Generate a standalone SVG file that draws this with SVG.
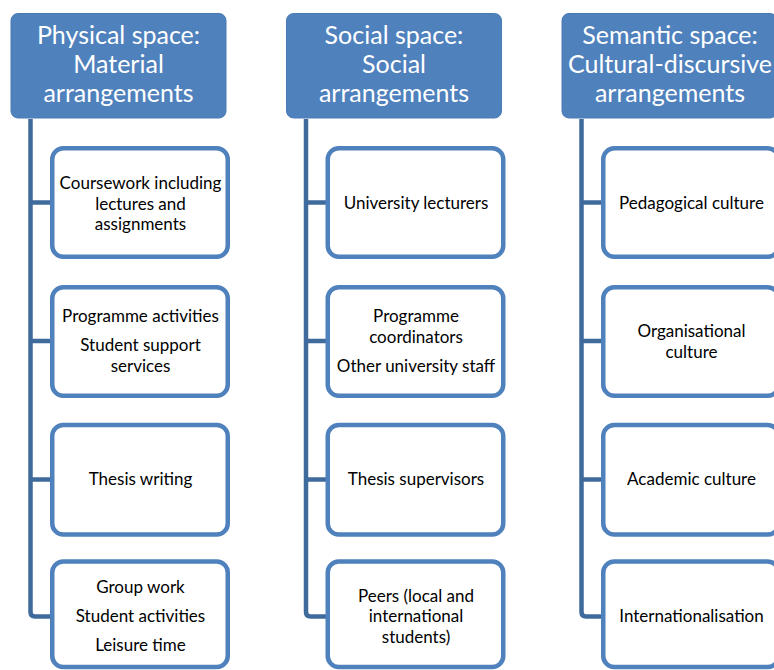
<svg xmlns="http://www.w3.org/2000/svg" width="774" height="670" viewBox="0 0 774 670">
<style>
.hdr{fill:#4F81BD;stroke:#4A7AB4;stroke-width:1}
.box{fill:#FFFFFF;stroke:#4F81BD;stroke-width:4.5}
.ht{font-family:Lato,"Open Sans",sans-serif;font-size:25px;fill:#FFFFFF;text-anchor:middle}
.bt{font-family:Lato,"Open Sans",sans-serif;font-size:17px;fill:#000000;text-anchor:middle}
.con{fill:none;stroke:#3F6A9C;stroke-width:4.5;stroke-linejoin:round}
</style>
<rect width="774" height="670" fill="#FFFFFF"/>
<g id="connectors">
<path class="con" d="M30.5 119 V612 Q30.5 616.5 35 616.5 H51"/>
<path class="con" d="M30.5 202.5 H51 M30.5 341 H51 M30.5 479.5 H51"/>
<path class="con" d="M306 119 V612 Q306 616.5 310.5 616.5 H327"/>
<path class="con" d="M306 202.5 H327 M306 341 H327 M306 479.5 H327"/>
<path class="con" d="M581.5 119 V612 Q581.5 616.5 586 616.5 H602"/>
<path class="con" d="M581.5 202.5 H602 M581.5 341 H602 M581.5 479.5 H602"/>
</g>
<g id="h1"><rect class="hdr" x="11" y="13.5" width="215" height="104.5" rx="7"/>
<text class="ht" x="118.5" y="44">Physical space:</text><text class="ht" x="118.5" y="73">Material</text><text class="ht" x="118.5" y="102">arrangements</text></g>
<g id="h2"><rect class="hdr" x="286.5" y="13.5" width="215" height="104.5" rx="7"/>
<text class="ht" x="394" y="44">Social space:</text><text class="ht" x="394" y="73">Social</text><text class="ht" x="394" y="102">arrangements</text></g>
<g id="h3"><rect class="hdr" x="562" y="13.5" width="215" height="104.5" rx="7"/>
<text class="ht" x="670" y="44">Semantic space:</text><text class="ht" x="670" y="73">Cultural-discursive</text><text class="ht" x="670" y="102">arrangements</text></g>

<g id="c1b1"><rect class="box" x="52.25" y="148.25" width="175.5" height="108.5" rx="11"/>
<text class="bt" x="140.5" y="189">Coursework including</text><text class="bt" x="140.5" y="209.5">lectures and</text><text class="bt" x="140.5" y="230">assignments</text></g>
<g id="c1b2"><rect class="box" x="52.25" y="287.25" width="175.5" height="108.5" rx="11"/>
<text class="bt" x="140.5" y="322">Programme activities</text><text class="bt" x="140.5" y="351">Student support</text><text class="bt" x="140.5" y="371.5">services</text></g>
<g id="c1b3"><rect class="box" x="52.25" y="425" width="175.5" height="109.5" rx="11"/>
<text class="bt" x="140.5" y="485">Thesis writing</text></g>
<g id="c1b4"><rect class="box" x="52.25" y="561.5" width="175.5" height="105.5" rx="11"/>
<text class="bt" x="140.5" y="593">Group work</text><text class="bt" x="140.5" y="622">Student activities</text><text class="bt" x="140.5" y="651">Leisure time</text></g>

<g id="c2b1"><rect class="box" x="327.75" y="148.25" width="175.5" height="108.5" rx="11"/>
<text class="bt" x="416" y="209">University lecturers</text></g>
<g id="c2b2"><rect class="box" x="327.75" y="287.25" width="175.5" height="108.5" rx="11"/>
<text class="bt" x="416" y="322">Programme</text><text class="bt" x="416" y="342.5">coordinators</text><text class="bt" x="416" y="371.5">Other university staff</text></g>
<g id="c2b3"><rect class="box" x="327.75" y="425" width="175.5" height="109.5" rx="11"/>
<text class="bt" x="416" y="485">Thesis supervisors</text></g>
<g id="c2b4"><rect class="box" x="327.75" y="561.5" width="175.5" height="105.5" rx="11"/>
<text class="bt" x="416" y="601.5">Peers (local and</text><text class="bt" x="416" y="622">international</text><text class="bt" x="416" y="642.5">students)</text></g>

<g id="c3b1"><rect class="box" x="603.25" y="148.25" width="175.5" height="108.5" rx="11"/>
<text class="bt" x="691.5" y="209">Pedagogical culture</text></g>
<g id="c3b2"><rect class="box" x="603.25" y="287.25" width="175.5" height="108.5" rx="11"/>
<text class="bt" x="691.5" y="337">Organisational</text><text class="bt" x="691.5" y="357.5">culture</text></g>
<g id="c3b3"><rect class="box" x="603.25" y="425" width="175.5" height="109.5" rx="11"/>
<text class="bt" x="691.5" y="485">Academic culture</text></g>
<g id="c3b4"><rect class="box" x="603.25" y="561.5" width="175.5" height="105.5" rx="11"/>
<text class="bt" x="691.5" y="622">Internationalisation</text></g>
</svg>
